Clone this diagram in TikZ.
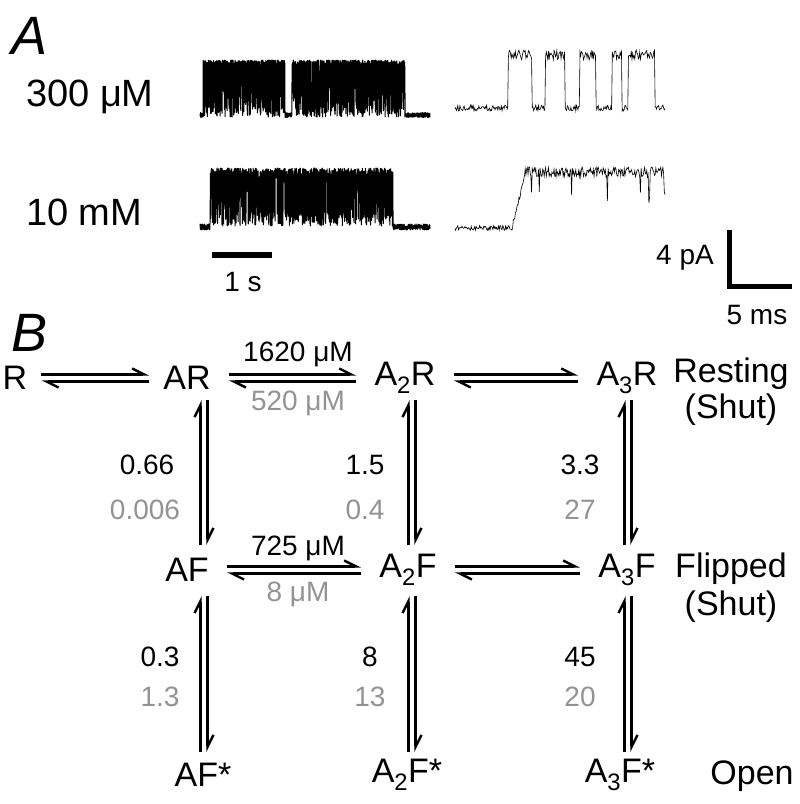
\documentclass[tikz,border=0pt]{standalone}
\usepackage{fontspec}
\setmainfont{Liberation Sans}
\usetikzlibrary{arrows.meta}
\begin{document}
\begin{tikzpicture}[x=1pt,y=-1pt,
  big/.style={font=\fontsize{34}{38}\selectfont, inner sep=0pt},
  lab/.style={font=\fontsize{28}{32}\selectfont, inner sep=0pt},
  glab/.style={lab, text=gray!85},
  hp/.style={line width=2.4pt, -{Straight Barb[left,length=12pt,width=12pt]}},
  tr/.style={line width=1pt, line join=round}]
\useasboundingbox (0,0) rectangle (800,804);
\pgfmathsetseed{7}
% panel A
\node[font=\fontsize{54}{58}\selectfont\itshape, inner sep=0pt] (A) at (30,36) {A};
\node[big, font=\fontsize{38}{42}\selectfont, anchor=west] (c1) at (26,97) {300 μM};
\node[big, font=\fontsize{38}{42}\selectfont, anchor=west] (c2) at (26,212) {10 mM};
% left traces
\draw[tr] plot[samples=1800, domain=200:430] (\x, {((\x>203 && \x<285) || (\x>292 && \x<405)) ? (rnd<0.55 ? 60+6*rnd : (rnd<0.6 ? 80+30*rnd : 112+5*rand)) : 115+2.5*rand});
\draw[tr] plot[samples=1800, domain=200:430] (\x, {(\x>210 && \x<393) ? (rnd<0.55 ? 168+10*rnd : (rnd<0.5 ? 220+6*rand : 195+20*rand)) : 227+3*rand});
% right traces
\draw[line width=0.6pt] plot[samples=300, domain=455:665] (\x, {((\x>508 && \x<532) || (\x>545 && \x<565) || (\x>580 && \x<596) || (\x>612 && \x<622) || (\x>628 && \x<655)) ? 55+5*rand : 108+3*rand});
\draw[line width=0.6pt] plot[samples=300, domain=455:665] (\x, {\x<512 ? 228+2.5*rand : (\x<525 ? 228-(\x-512)*4+3*rand : (rnd<0.05 ? 190+15*rnd : 172+5*rand))});
% scale bars
\coordinate (sb1) at (212,255); \coordinate (sb2) at (272,255);
\draw[line width=6pt] (sb1) -- (sb2);
\node[lab] (s1) at (243,282) {1 s};
\coordinate (L1) at (729,230); \coordinate (L2) at (729,286); \coordinate (L3) at (792,286);
\draw[line width=5pt] (L1) -- (L2) -- (L3);
\node[lab, anchor=east] (s2) at (714,258) {4 pA};
\node[lab] (s3) at (757,315) {5 ms};
% panel B
\node[font=\fontsize{54}{58}\selectfont\itshape, inner sep=0pt] (B) at (30,333) {B};
\node[big] (R) at (15,378) {R};
\node[big] (AR) at (187,378) {AR};
\node[big] (A2R) at (405,378) {A\textsubscript{2}R};
\node[big] (A3R) at (627,378) {A\textsubscript{3}R};
\node[big] (AF) at (187,570) {AF};
\node[big] (A2F) at (408,570) {A\textsubscript{2}F};
\node[big] (A3F) at (627,570) {A\textsubscript{3}F};
\node[big] (AFs) at (203,775) {AF*};
\node[big] (A2Fs) at (407,775) {A\textsubscript{2}F*};
\node[big] (A3Fs) at (620,775) {A\textsubscript{3}F*};
\node[big] (t1) at (731,374) {Resting};
\node[big] (t2) at (731,410) {(Shut)};
\node[big] (t3) at (731,569) {Flipped};
\node[big] (t4) at (731,607) {(Shut)};
\node[big] (t5) at (752,776) {Open};
% horizontal harpoons
\foreach \a/\b/\sa/\sb in {R/AR/14/-14, AR/A2R/18/-18, A2R/A3R/18/-18, AF/A2F/18/-18, A2F/A3F/18/-18}{
  \draw[hp] ([xshift=\sa pt,yshift=3.5pt]\a.east) -- ([xshift=\sb pt,yshift=3.5pt]\b.west);
  \draw[hp] ([xshift=\sb pt,yshift=-3.5pt]\b.west) -- ([xshift=\sa pt,yshift=-3.5pt]\a.east);
}
% vertical harpoons
\foreach \x/\ya/\yb in {204/400/545, 412/400/545, 628/400/545, 204/596/752, 412/596/752, 628/596/752}{
  \coordinate (p1) at (\x-3.5,\yb); \coordinate (p2) at (\x-3.5,\ya);
  \coordinate (q1) at (\x+3.5,\ya); \coordinate (q2) at (\x+3.5,\yb);
  \draw[hp] (p1) -- (p2);
  \draw[hp] (q1) -- (q2);
}
% rate labels
\node[lab] (k1) at (298,354) {1620 μM};
\node[glab] (k2) at (298,403) {520 μM};
\node[lab] (k3) at (298,548) {725 μM};
\node[glab] (k4) at (298,594) {8 μM};
\node[lab] (v1) at (147,465) {0.66};
\node[glab] (v2) at (145,510) {0.006};
\node[lab] (v3) at (365,465) {1.5};
\node[glab] (v4) at (365,510) {0.4};
\node[lab] (v5) at (580,465) {3.3};
\node[glab] (v6) at (580,510) {27};
\node[lab] (v7) at (160,657) {0.3};
\node[glab] (v8) at (160,697) {1.3};
\node[lab] (v9) at (370,657) {8};
\node[glab] (v10) at (370,697) {13};
\node[lab] (v11) at (580,657) {45};
\node[glab] (v12) at (580,697) {20};
\end{tikzpicture}
\end{document}
